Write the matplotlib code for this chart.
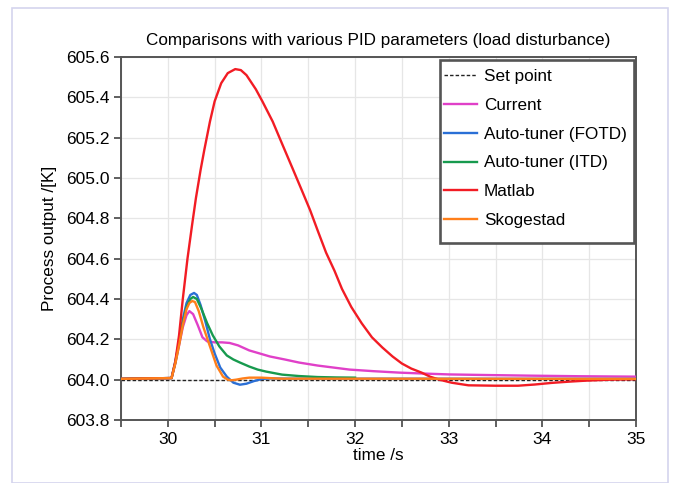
import matplotlib.pyplot as plt
from matplotlib.patches import Rectangle
from matplotlib.ticker import MultipleLocator

plt.rcParams['font.family'] = ['Liberation Sans', 'DejaVu Sans']

# Data
t_set = [29.5, 35.0]
y_set = [604.0, 604.0]

t_cur = [29.5, 30.04, 30.08, 30.12, 30.16, 30.2, 30.23, 30.27, 30.32, 30.37, 30.42, 30.5, 30.58, 30.66,
         30.75, 30.87, 30.98, 31.09, 31.25, 31.4, 31.6, 31.94, 32.2, 32.47, 32.75, 33.0, 33.4, 33.85, 34.4, 35.0]
y_cur = [604.004, 604.008, 604.08, 604.17, 604.26, 604.32, 604.34, 604.325, 604.27, 604.21, 604.19, 604.185, 604.185, 604.182,
         604.17, 604.145, 604.13, 604.115, 604.1, 604.085, 604.07, 604.05, 604.042, 604.035, 604.03, 604.026, 604.023, 604.02, 604.017, 604.015]

t_fotd = [29.5, 30.04, 30.08, 30.12, 30.16, 30.2, 30.24, 30.28, 30.31, 30.35, 30.4, 30.45, 30.5, 30.56, 30.63,
          30.7, 30.77, 30.84, 30.92, 31.01, 31.1, 31.3, 35.0]
y_fotd = [604.004, 604.008, 604.09, 604.19, 604.3, 604.38, 604.42, 604.43, 604.42, 604.37, 604.29, 604.2, 604.13, 604.06, 604.015,
          603.985, 603.975, 603.98, 603.993, 604.004, 604.006, 604.005, 604.004]

t_itd = [29.5, 30.04, 30.08, 30.12, 30.16, 30.2, 30.24, 30.27, 30.31, 30.36, 30.42, 30.48, 30.55, 30.63, 30.7,
         30.77, 30.87, 30.96, 31.05, 31.22, 31.4, 31.6, 31.8, 32.0]
y_itd = [604.004, 604.008, 604.085, 604.18, 604.28, 604.36, 604.4, 604.41, 604.4, 604.35, 604.28, 604.22, 604.165, 604.12, 604.1,
         604.085, 604.065, 604.05, 604.04, 604.025, 604.018, 604.013, 604.011, 604.01]

t_mat = [29.5, 30.04, 30.08, 30.12, 30.16, 30.21, 30.26, 30.3, 30.35, 30.39, 30.45, 30.5, 30.57, 30.64, 30.72, 30.78,
         30.84, 30.94, 31.01, 31.12, 31.22, 31.33, 31.43, 31.52, 31.6, 31.69, 31.78, 31.86, 31.96, 32.07, 32.18, 32.29,
         32.4, 32.5, 32.6, 32.71, 32.8, 32.9, 33.03, 33.21, 33.5, 33.74, 33.92, 34.1, 34.28, 34.46, 34.73, 35.0]
y_mat = [604.004, 604.008, 604.09, 604.22, 604.4, 604.6, 604.77, 604.9, 605.04, 605.14, 605.28, 605.38, 605.47, 605.52, 605.54, 605.535,
         605.51, 605.44, 605.38, 605.28, 605.17, 605.05, 604.94, 604.84, 604.74, 604.63, 604.54, 604.45, 604.36, 604.28, 604.21, 604.16,
         604.115, 604.08, 604.055, 604.035, 604.015, 604.0, 603.985, 603.972, 603.97, 603.97, 603.976, 603.984, 603.99, 603.995, 604.0, 604.002]

t_sko = [29.5, 30.04, 30.08, 30.12, 30.16, 30.2, 30.23, 30.26, 30.29, 30.33, 30.38, 30.45, 30.52, 30.59,
         30.64, 30.68, 30.73, 30.8, 30.87, 31.0, 31.2, 35.0]
y_sko = [604.004, 604.008, 604.08, 604.17, 604.27, 604.35, 604.38, 604.39, 604.385, 604.34, 604.26, 604.165, 604.07, 604.015,
         604.0, 603.997, 604.0, 604.006, 604.01, 604.01, 604.005, 604.004]

labels = ['Set point', 'Current', 'Auto-tuner (FOTD)', 'Auto-tuner (ITD)', 'Matlab', 'Skogestad']
colors = ['#222222', '#e040c8', '#2a6fd6', '#179a4e', '#f21c24', '#ff7f1a']

fig = plt.figure(figsize=(6.77, 4.83), dpi=100)
fig.patches.append(Rectangle((12 / 677, 0), 656 / 677, 475 / 483, transform=fig.transFigure,
                             fill=False, edgecolor='#d4d4ee', linewidth=1.2))
ax = fig.add_axes([121 / 677, 63 / 483, 515 / 677, 363 / 483])

ax.plot(t_set, y_set, '--', color=colors[0], lw=1.0, dashes=(2.5, 1.5), label=labels[0], zorder=2)
series = [(t_cur, y_cur), (t_fotd, y_fotd), (t_itd, y_itd), (t_mat, y_mat), (t_sko, y_sko)]
for i, (t, y) in enumerate(series):
    ax.plot(t, y, color=colors[i + 1], lw=1.7, label=labels[i + 1], zorder=3 + i)

ax.set_xlim(29.5, 35)
ax.set_ylim(603.8, 605.6)
ax.xaxis.set_major_locator(MultipleLocator(1))
ax.xaxis.set_minor_locator(MultipleLocator(0.5))
ax.yaxis.set_major_locator(MultipleLocator(0.2))
ax.grid(True, which='both', color='#e6e6e6', lw=0.9)
ax.set_axisbelow(True)
for s in ax.spines.values():
    s.set_color('#555555')
    s.set_linewidth(1.4)
ax.tick_params(which='both', direction='out', color='#444444', labelsize=12.5, width=1.2, length=5)

ax.set_title('Comparisons with various PID parameters (load disturbance)', fontsize=12.3, pad=9)
ax.set_xlabel('time /s', fontsize=12.3, labelpad=1)
ax.set_ylabel('Process output /[K]', fontsize=12.3, labelpad=6)

# legend: tall box with tight side padding, drawn as a separate frame
ax.add_patch(Rectangle((0.619, 0.488), 0.378, 0.505, transform=ax.transAxes, facecolor='white',
                       edgecolor='#555555', linewidth=1.9, zorder=20))
leg = ax.legend(loc='upper left', bbox_to_anchor=(0.627, 0.967), fontsize=12.3, handlelength=1.95,
                handletextpad=0.4, borderpad=0, borderaxespad=0, labelspacing=0.81, frameon=False)
leg.set_zorder(21)

fig.savefig('out.png', dpi=100)
